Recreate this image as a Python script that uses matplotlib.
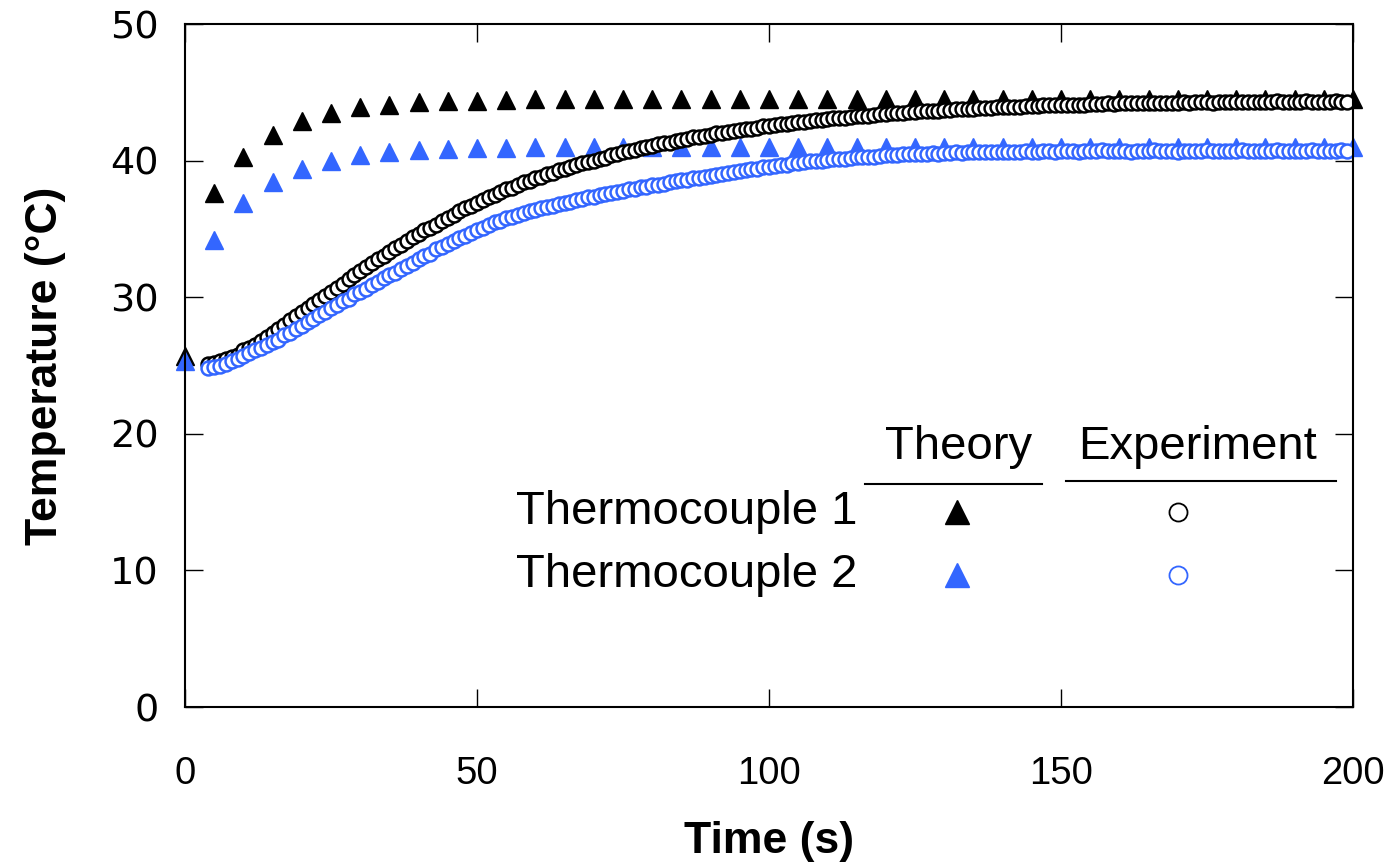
import matplotlib.pyplot as plt
import numpy as np

plt.rcParams['font.family'] = ['Liberation Sans', 'DejaVu Sans']

# theory, every 5 s
t_theory = np.arange(0, 201, 5)
theory_tc1 = [25.7, 37.6, 40.3, 41.9, 42.9, 43.5, 43.9, 44.1, 44.3, 44.4,
              44.4, 44.45, 44.5, 44.5, 44.5, 44.5, 44.5, 44.5, 44.5, 44.5,
              44.5, 44.5, 44.5, 44.5, 44.5, 44.5, 44.5, 44.5, 44.5, 44.5,
              44.5, 44.5, 44.5, 44.5, 44.5, 44.5, 44.5, 44.5, 44.5, 44.5,
              44.5]
theory_tc2 = [25.3, 34.2, 36.9, 38.4, 39.4, 40.0, 40.4, 40.6, 40.8, 40.85,
              40.9, 40.95, 41.0, 41.0, 41.0, 41.0, 41.0, 41.0, 41.0, 41.0,
              41.0, 41.0, 41.0, 41.0, 41.0, 41.0, 41.0, 41.0, 41.0, 41.0,
              41.0, 41.0, 41.0, 41.0, 41.0, 41.0, 41.0, 41.0, 41.0, 41.0,
              41.0]

# experiment, sampled every second from 4 s
t_exp = np.arange(4, 200)
exp_tc1 = [25.1, 25.2, 25.3, 25.5, 25.6, 25.8, 26.1, 26.3, 26.5, 26.8,
           27.1, 27.4, 27.7, 28.0, 28.3, 28.6, 28.9, 29.2, 29.5, 29.8,
           30.1, 30.4, 30.7, 31.0, 31.3, 31.6, 31.9, 32.2, 32.5, 32.8,
           33.0, 33.3, 33.6, 33.8, 34.1, 34.4, 34.6, 34.9, 35.1, 35.3,
           35.6, 35.8, 36.0, 36.3, 36.5, 36.7, 36.9, 37.1, 37.3, 37.5,
           37.7, 37.9, 38.0, 38.2, 38.4, 38.5, 38.7, 38.8, 39.0, 39.1,
           39.3, 39.4, 39.5, 39.7, 39.8, 39.9, 40.0, 40.1, 40.2, 40.4,
           40.5, 40.6, 40.7, 40.8, 40.9, 41.0, 41.1, 41.2, 41.3, 41.3,
           41.4, 41.5, 41.6, 41.7, 41.7, 41.8, 41.9, 42.0, 42.0, 42.1,
           42.2, 42.25, 42.3, 42.35, 42.4, 42.5, 42.55, 42.6, 42.65, 42.7,
           42.75, 42.8, 42.85, 42.9, 42.95, 43.0, 43.05, 43.1, 43.1, 43.15,
           43.2, 43.25, 43.3, 43.3, 43.35, 43.4, 43.4, 43.45, 43.5, 43.5,
           43.55, 43.55, 43.6, 43.6, 43.65, 43.65, 43.7, 43.7, 43.75, 43.75,
           43.8, 43.8, 43.85, 43.85, 43.85, 43.9, 43.9, 43.95, 43.95, 43.95,
           44.0, 44.0, 44.0, 44.05, 44.05, 44.05, 44.1, 44.05, 44.1, 44.1,
           44.1, 44.15, 44.15, 44.15, 44.2, 44.15, 44.2, 44.2, 44.25, 44.2,
           44.25, 44.25, 44.25, 44.2, 44.25, 44.25, 44.25, 44.3, 44.25, 44.3,
           44.3, 44.3, 44.25, 44.3, 44.3, 44.3, 44.3, 44.3, 44.3, 44.3,
           44.3, 44.3, 44.3, 44.35, 44.3, 44.3, 44.3, 44.3, 44.35, 44.3,
           44.3, 44.3, 44.3, 44.35, 44.3, 44.3]
exp_tc2 = [24.8, 24.9, 25.0, 25.1, 25.3, 25.5, 25.7, 25.9, 26.1, 26.3,
           26.5, 26.7, 26.9, 27.2, 27.4, 27.7, 27.9, 28.2, 28.4, 28.7,
           28.9, 29.2, 29.4, 29.7, 29.9, 30.2, 30.4, 30.6, 30.9, 31.1,
           31.4, 31.6, 31.8, 32.1, 32.3, 32.5, 32.8, 33.0, 33.2, 33.5,
           33.7, 33.9, 34.1, 34.3, 34.5, 34.7, 34.9, 35.1, 35.3, 35.5,
           35.6, 35.8, 35.9, 36.0, 36.2, 36.3, 36.4, 36.5, 36.6, 36.7,
           36.8, 36.9, 37.0, 37.1, 37.2, 37.3, 37.35, 37.45, 37.55, 37.6,
           37.7, 37.8, 37.9, 37.95, 38.05, 38.1, 38.2, 38.25, 38.3, 38.4,
           38.5, 38.55, 38.6, 38.7, 38.75, 38.8, 38.9, 38.95, 39.0, 39.1,
           39.15, 39.25, 39.3, 39.35, 39.4, 39.5, 39.55, 39.6, 39.65, 39.7,
           39.8, 39.85, 39.9, 39.95, 40.0, 40.0, 40.05, 40.1, 40.1, 40.15,
           40.2, 40.25, 40.25, 40.3, 40.3, 40.35, 40.4, 40.4, 40.4, 40.45,
           40.45, 40.5, 40.5, 40.5, 40.55, 40.5, 40.55, 40.55, 40.6, 40.55,
           40.6, 40.6, 40.6, 40.65, 40.6, 40.65, 40.65, 40.6, 40.65, 40.65,
           40.7, 40.65, 40.65, 40.7, 40.7, 40.65, 40.7, 40.7, 40.7, 40.65,
           40.7, 40.7, 40.7, 40.75, 40.7, 40.7, 40.7, 40.7, 40.65, 40.7,
           40.7, 40.7, 40.75, 40.7, 40.7, 40.7, 40.65, 40.7, 40.7, 40.7,
           40.7, 40.75, 40.7, 40.7, 40.7, 40.7, 40.7, 40.75, 40.7, 40.7,
           40.7, 40.7, 40.7, 40.75, 40.7, 40.7, 40.7, 40.7, 40.7, 40.75,
           40.7, 40.7, 40.7, 40.7, 40.75, 40.7]

blue = '#3366ff'

fig = plt.figure(figsize=(13.93, 8.64), dpi=100)
ax = fig.add_axes([0.1328, 0.1817, 0.8385, 0.7905])

ax.plot(t_theory, theory_tc1, ls='none', marker='^', ms=13, color='black', clip_on=False)
ax.plot(t_theory, theory_tc2, ls='none', marker='^', ms=13, color=blue, clip_on=False)
ax.plot(t_exp, exp_tc1, ls='none', marker='o', ms=10, mfc='white', mec='black', mew=1.8, clip_on=False)
ax.plot(t_exp, exp_tc2, ls='none', marker='o', ms=10, mfc='white', mec=blue, mew=1.8, clip_on=False)

ax.set_xlim(0, 200)
ax.set_ylim(0, 50)
ax.set_xticks([0, 50, 100, 150, 200])
ax.set_yticks([0, 10, 20, 30, 40, 50])
ax.tick_params(direction='in', length=13, width=1, labelsize=27.5, top=True, right=True)
ax.tick_params(axis='x', pad=35)
ax.tick_params(axis='y', pad=19)
for lab in ax.get_yticklabels():
    lab.set_family('DejaVu Sans')
for sp in ax.spines.values():
    sp.set_linewidth(1.5)

ax.set_xlabel('Time (s)', fontsize=32, fontweight='bold')
ax.set_ylabel('Temperature (°C)', fontsize=32, fontweight='bold')
ax.xaxis.set_label_coords(0.5, -0.167)
ax.yaxis.set_label_coords(-0.102, 0.5)

# table-style legend
tr = ax.transAxes
ax.text(0.662, 0.381, 'Theory', transform=tr, fontsize=34, ha='center', va='center')
ax.text(0.867, 0.381, 'Experiment', transform=tr, fontsize=34, ha='center', va='center')
ax.plot([0.582, 0.734], [0.3265, 0.3265], transform=tr, color='black', lw=1.5)
ax.plot([0.754, 0.985], [0.331, 0.331], transform=tr, color='black', lw=1.5)
ax.text(0.576, 0.2855, 'Thermocouple 1', transform=tr, fontsize=34, ha='right', va='center')
ax.text(0.576, 0.193, 'Thermocouple 2', transform=tr, fontsize=34, ha='right', va='center')
ax.plot([0.661], [0.2855], transform=tr, marker='^', ms=17, color='black')
ax.plot([0.661], [0.193], transform=tr, marker='^', ms=17, color=blue)
ax.plot([0.850], [0.2855], transform=tr, marker='o', ms=13, mfc='white', mec='black', mew=1.3)
ax.plot([0.850], [0.193], transform=tr, marker='o', ms=13, mfc='white', mec=blue, mew=1.3)

fig.savefig('out.png', dpi=100)
